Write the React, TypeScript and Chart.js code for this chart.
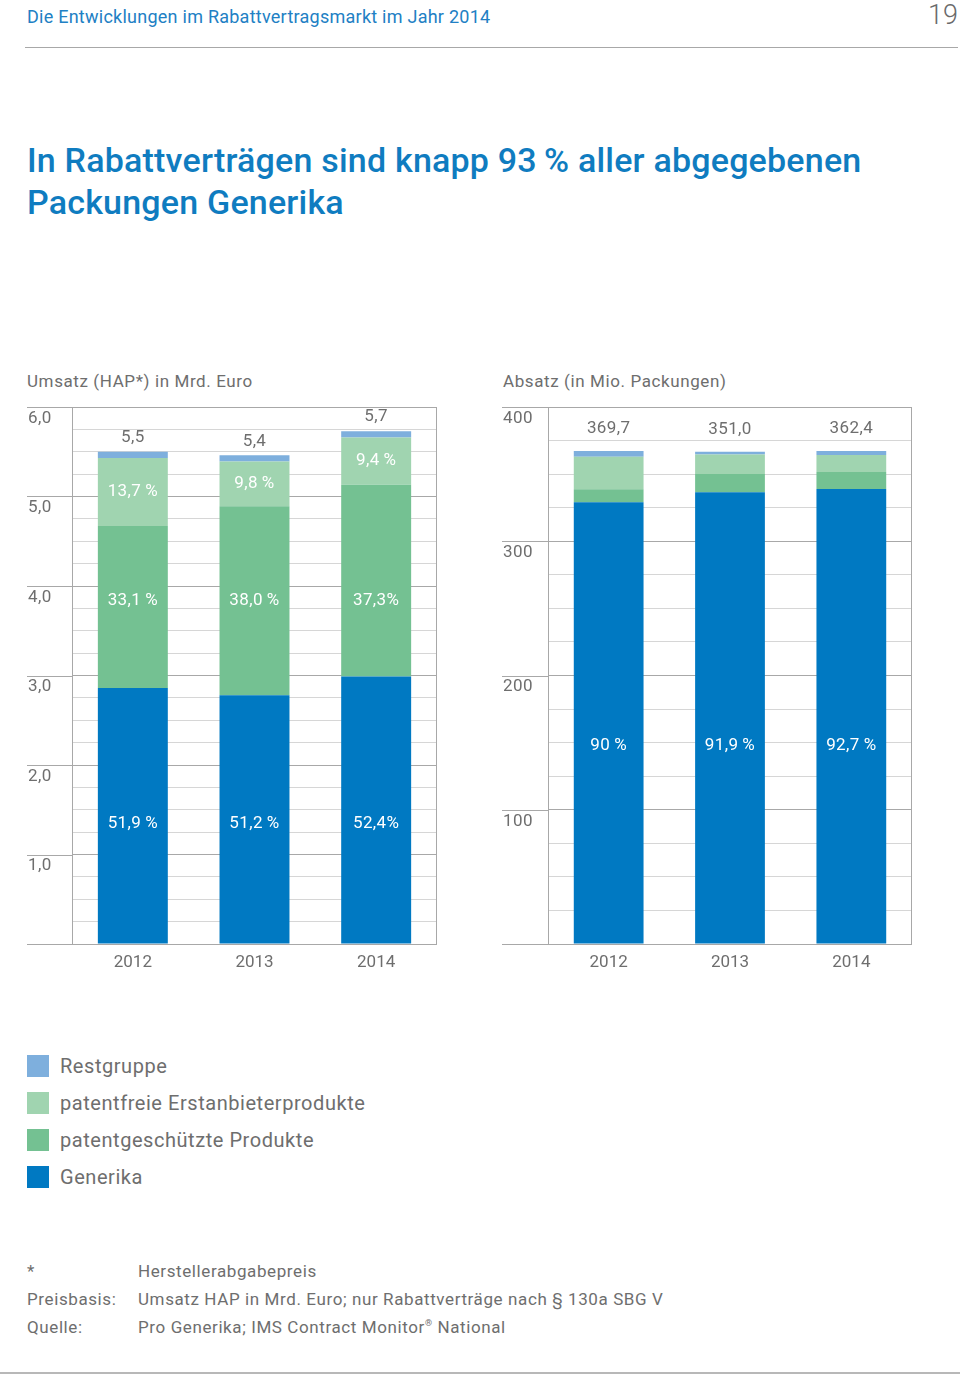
import React, { useEffect, useRef } from 'react';
import { Chart, registerables } from 'chart.js';

Chart.register(...registerables);

// ---------- data ----------
const years = ['2012', '2013', '2014'];

// Umsatz (HAP) in Mrd. Euro
const umsatzGenerika = [2.86, 2.78, 2.99];
const umsatzPatentgeschuetzt = [1.81, 2.11, 2.14];
const umsatzPatentfrei = [0.76, 0.5, 0.53];
const umsatzRest = [0.07, 0.07, 0.07];
const umsatzTotalLabels = ['5,5', '5,4', '5,7'];
const umsatzPatentfreiPct = ['13,7\u2009%', '9,8\u2009%', '9,4\u2009%'];
const umsatzPatentgeschuetztPct = ['33,1\u2009%', '38,0\u2009%', '37,3%'];
const umsatzGenerikaPct = ['51,9\u2009%', '51,2\u2009%', '52,4%'];
const umsatzTickValues = [1, 2, 3, 4, 5, 6];
const umsatzTickLabels = ['1,0', '2,0', '3,0', '4,0', '5,0', '6,0'];

// Absatz in Mio. Packungen
const absatzGenerika = [329, 336.5, 339];
const absatzPatentgeschuetzt = [9.7, 13.6, 12.6];
const absatzPatentfrei = [24.3, 14.5, 12.6];
const absatzRest = [4.2, 2.0, 3.0];
const absatzTotalLabels = ['369,7', '351,0', '362,4'];
const absatzGenerikaPct = ['90\u2009%', '91,9\u2009%', '92,7\u2009%'];
const absatzTickValues = [100, 200, 300, 400];
const absatzTickLabels = ['100', '200', '300', '400'];

const seriesNames = ['Generika', 'patentgeschützte Produkte', 'patentfreie Erstanbieterprodukte', 'Restgruppe'];
const seriesColors = ['#0079c2', '#74c192', '#a0d4b0', '#7eafdd'];

const legendOrder = [3, 2, 1, 0];

// ---------- styles ----------
const FONT = 'Roboto, "DejaVu Sans", sans-serif';
const TEXT_GREY = '#6e6e6e';
const MAJOR_GRID = '#a8a8a8';
const MINOR_GRID = '#d6d6d6';

const axisFramePlugin = {
  id: 'axisFrame',
  beforeDatasetsDraw(chart: any, _args: any, opts: any) {
    const { ctx, chartArea } = chart;
    const y = chart.scales.y;
    ctx.save();
    ctx.strokeStyle = MAJOR_GRID;
    ctx.lineWidth = 1;
    const vals = [0, ...opts.values];
    vals.forEach((v: number) => {
      const py = Math.round(y.getPixelForValue(v)) + 0.5;
      ctx.beginPath();
      ctx.moveTo(0, py);
      ctx.lineTo(chartArea.left, py);
      ctx.stroke();
    });
    // right frame line
    const rx = Math.round(chartArea.right) - 0.5;
    ctx.beginPath();
    ctx.moveTo(rx, chartArea.top);
    ctx.lineTo(rx, chartArea.bottom);
    ctx.stroke();
    // labels
    ctx.fillStyle = TEXT_GREY;
    ctx.font = `17px ${FONT}`;
    (ctx as any).letterSpacing = '0.4px';
    ctx.textAlign = 'left';
    ctx.textBaseline = 'top';
    opts.values.forEach((v: number, i: number) => {
      const py = y.getPixelForValue(v);
      ctx.fillText(opts.labels[i], 1, py + 3);
    });
    ctx.restore();
  },
};

const barLabelsPlugin = {
  id: 'barLabels',
  afterDatasetsDraw(chart: any, _args: any, opts: any) {
    const ctx = chart.ctx;
    const n = chart.data.datasets.length;
    const topMeta = chart.getDatasetMeta(n - 1);
    ctx.save();
    ctx.font = `17px ${FONT}`;
    (ctx as any).letterSpacing = '0.4px';
    ctx.textAlign = 'center';
    ctx.textBaseline = 'middle';
    ctx.fillStyle = TEXT_GREY;
    topMeta.data.forEach((el: any, i: number) => {
      ctx.fillText(opts.totals[i], el.x, el.y - opts.totalOffset);
    });
    ctx.fillStyle = '#ffffff';
    opts.inner.forEach((spec: any) => {
      const meta = chart.getDatasetMeta(spec.datasetIndex);
      meta.data.forEach((el: any, i: number) => {
        const py = spec.atValue != null ? chart.scales.y.getPixelForValue(spec.atValue) : (el.y + el.base) / 2;
        ctx.fillText(spec.labels[i], el.x, py);
      });
    });
    ctx.restore();
  },
};

function makeConfig(
  series: number[][],
  max: number,
  step: number,
  majorEvery: number,
  yWidth: number,
  tickValues: number[],
  tickLabels: string[],
  labels: any
): any {
  return {
    type: 'bar',
    data: {
      labels: years,
      datasets: series.map((d, i) => ({
        label: seriesNames[i],
        data: d,
        backgroundColor: seriesColors[i],
        borderWidth: 0,
        barPercentage: 0.575,
        categoryPercentage: 1,
      })),
    },
    plugins: [axisFramePlugin, barLabelsPlugin],
    options: {
      responsive: false,
      animation: false,
      layout: { padding: { left: 0, top: 7, right: 2, bottom: 0 } },
      plugins: {
        legend: { display: false },
        tooltip: { enabled: false },
        axisFrame: { values: tickValues, labels: tickLabels },
        barLabels: labels,
      },
      scales: {
        x: {
          stacked: true,
          grid: { display: false, drawTicks: false },
          border: { display: false },
          ticks: { color: TEXT_GREY, font: { family: FONT, size: 17 }, padding: 9 },
          afterFit: (scale: any) => {
            scale.height = 36;
          },
        },
        y: {
          stacked: true,
          min: 0,
          max,
          ticks: { display: false, stepSize: step },
          grid: {
            drawTicks: false,
            color: (c: any) => {
              const v = c.tick ? c.tick.value : 0;
              return Math.abs(v / majorEvery - Math.round(v / majorEvery)) < 1e-6 ? MAJOR_GRID : MINOR_GRID;
            },
          },
          border: { display: true, color: MAJOR_GRID },
          afterFit: (scale: any) => {
            scale.width = yWidth;
          },
        },
      },
    },
  };
}

function BarChart({ config, left, top }: { config: any; left: number; top: number }) {
  const ref = useRef<HTMLCanvasElement | null>(null);
  useEffect(() => {
    if (!ref.current) return;
    const chart = new Chart(ref.current, config);
    return () => chart.destroy();
  }, [config]);
  return (
    <canvas
      ref={ref}
      width={412}
      height={580}
      style={{ position: 'absolute', left, top, width: 412, height: 580 }}
    />
  );
}

const umsatzConfig = makeConfig(
  [umsatzGenerika, umsatzPatentgeschuetzt, umsatzPatentfrei, umsatzRest],
  6,
  0.25,
  1,
  45,
  umsatzTickValues,
  umsatzTickLabels,
  {
    totals: umsatzTotalLabels,
    totalOffset: 14,
    inner: [
      { datasetIndex: 2, labels: umsatzPatentfreiPct },
      { datasetIndex: 1, labels: umsatzPatentgeschuetztPct, atValue: 3.84 },
      { datasetIndex: 0, labels: umsatzGenerikaPct, atValue: 1.34 },
    ],
  }
);

const absatzConfig = makeConfig(
  [absatzGenerika, absatzPatentgeschuetzt, absatzPatentfrei, absatzRest],
  400,
  25,
  100,
  46,
  absatzTickValues,
  absatzTickLabels,
  {
    totals: absatzTotalLabels,
    totalOffset: 22,
    inner: [{ datasetIndex: 0, labels: absatzGenerikaPct, atValue: 148 }],
  }
);

const abs = (left: number, top: number, extra: any = {}) => ({
  position: 'absolute' as const,
  left,
  top,
  margin: 0,
  whiteSpace: 'nowrap' as const,
  ...extra,
});

const small = { fontSize: 17, lineHeight: '20px', letterSpacing: '0.6px' };

export default function App() {
  const legendRows = legendOrder.map((idx, r) => ({ name: seriesNames[idx], color: seriesColors[idx], r }));
  return (
    <div
      style={{
        position: 'absolute',
        left: 0,
        top: 0,
        width: 960,
        height: 1379,
        background: '#ffffff',
        fontFamily: FONT,
        color: TEXT_GREY,
        overflow: 'hidden',
      }}
    >
      <div style={abs(27, 7, { fontSize: 18, lineHeight: '20px', letterSpacing: '0.25px', color: '#2180c4' })}>
        Die Entwicklungen im Rabattvertragsmarkt im Jahr 2014
      </div>
      <div style={abs(0, 1, { width: 958, textAlign: 'right', fontSize: 27, lineHeight: '28px', fontWeight: 300, color: '#6a6a6a' })}>
        19
      </div>
      <div style={abs(25, 47, { width: 933, height: 1, background: '#a8a8a8' })} />

      <div style={abs(27, 139, { fontSize: 34, lineHeight: '42px', fontWeight: 500, letterSpacing: '0.2px', color: '#0f7cc0' })}>
        In Rabattverträgen sind knapp 93{'\u2009'}% aller abgegebenen
        <br />
        Packungen Generika
      </div>

      <div style={abs(27, 371, small)}>Umsatz (HAP*) in Mrd. Euro</div>
      <div style={abs(503, 371, small)}>Absatz (in Mio. Packungen)</div>

      <BarChart config={umsatzConfig} left={27} top={400} />
      <BarChart config={absatzConfig} left={502} top={400} />

      {legendRows.map((row) => (
        <div key={row.name}>
          <div style={abs(27, 1055 + row.r * 37, { width: 22, height: 22, background: row.color })} />
          <div style={abs(60, 1055 + row.r * 37, { fontSize: 20, lineHeight: '22px', letterSpacing: '0.55px' })}>
            {row.name}
          </div>
        </div>
      ))}

      <div style={abs(27, 1261, small)}>*</div>
      <div style={abs(138, 1261, small)}>Herstellerabgabepreis</div>
      <div style={abs(27, 1289, small)}>Preisbasis:</div>
      <div style={abs(138, 1289, small)}>Umsatz HAP in Mrd. Euro; nur Rabattverträge nach § 130a SBG V</div>
      <div style={abs(27, 1317, small)}>Quelle:</div>
      <div style={abs(138, 1317, small)}>
        Pro Generika; IMS Contract Monitor
        <sup style={{ fontSize: 9, verticalAlign: 'top', lineHeight: '12px' }}>®</sup> National
      </div>

      <div style={abs(0, 1372, { width: 960, height: 2, background: '#b8b8b8' })} />
    </div>
  );
}
